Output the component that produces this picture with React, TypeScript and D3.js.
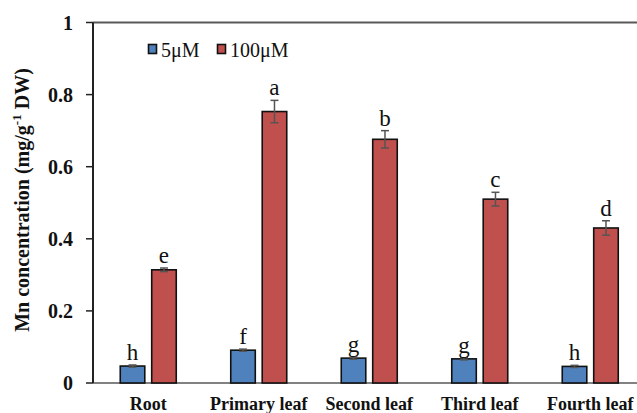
import React from 'react';
import * as d3 from 'd3';

const categories = ['Root', 'Primary leaf', 'Second leaf', 'Third leaf', 'Fourth leaf'];
const series = ['5μM', '100μM'];
const low = [0.047, 0.091, 0.069, 0.067, 0.046];
const high = [0.314, 0.753, 0.676, 0.51, 0.43];
const lowErr = [0.003, 0.003, 0.003, 0.003, 0.003];
const highErr = [0.005, 0.031, 0.024, 0.019, 0.02];
const lowLetters = ['h', 'f', 'g', 'g', 'h'];
const highLetters = ['e', 'a', 'b', 'c', 'd'];
const yTicks = [0, 0.2, 0.4, 0.6, 0.8, 1];

const colors = ['#4F81BD', '#C0504D'];
const serif = 'Liberation Serif';

export default function App() {
  const width = 637;
  const height = 413;
  const left = 93;

  const y = d3.scaleLinear().domain([0, 1]).range([383, 22.5]);
  const x = d3.scaleBand().domain(categories).range([left, left + 5 * 110.5]);
  const groupW = 56;

  const bars = categories.flatMap((c, i) => {
    const cx = (x(c) as number) + x.bandwidth() / 2;
    const x1 = d3.scaleBand().domain(series).range([cx - groupW / 2, cx + groupW / 2]).paddingInner(0.22);
    return [
      { s: series[0], v: low[i], e: lowErr[i], l: lowLetters[i], x: x1(series[0]) as number, w: x1.bandwidth(), col: colors[0] },
      { s: series[1], v: high[i], e: highErr[i], l: highLetters[i], x: x1(series[1]) as number, w: x1.bandwidth(), col: colors[1] },
    ];
  });

  const fmt = (t: number) => (t === 0 ? '0' : t === 1 ? '1' : t.toFixed(1));

  return (
    <svg width={width} height={height} style={{ position: 'absolute', left: 0, top: 0, background: '#fff', fontFamily: serif }}>
      {/* frame lines */}
      <line x1={left} x2={width} y1={y(1)} y2={y(1)} stroke="#595959" strokeWidth={2} />
      <line x1={left} x2={width} y1={y(0)} y2={y(0)} stroke="#595959" strokeWidth={1.5} />
      <line x1={left} x2={left} y1={y(1)} y2={y(0)} stroke="#222" strokeWidth={2} />

      {yTicks.map((t) => (
        <g key={t}>
          <line x1={left - 7} x2={left} y1={y(t)} y2={y(t)} stroke="#222" strokeWidth={1.5} />
          <text x={73} y={y(t)} dy="0.36em" textAnchor="end" fill="#111"
            style={{ fontFamily: serif, fontWeight: 'bold', fontSize: 20 }}>
            {fmt(t)}
          </text>
        </g>
      ))}

      {bars.map((b, i) => (
        <g key={i}>
          <rect x={b.x} y={y(b.v)} width={b.w} height={y(0) - y(b.v)} fill={b.col} stroke="#111" strokeWidth={1.6} />
          <line x1={b.x + b.w / 2} x2={b.x + b.w / 2} y1={y(b.v + b.e)} y2={y(b.v - b.e)} stroke="#555" strokeWidth={1.5} />
          <line x1={b.x + b.w / 2 - 4} x2={b.x + b.w / 2 + 4} y1={y(b.v + b.e)} y2={y(b.v + b.e)} stroke="#555" strokeWidth={1.5} />
          <line x1={b.x + b.w / 2 - 4} x2={b.x + b.w / 2 + 4} y1={y(b.v - b.e)} y2={y(b.v - b.e)} stroke="#555" strokeWidth={1.5} />
          <text x={b.x + b.w / 2} y={y(b.v + b.e) - 5} textAnchor="middle" fill="#111"
            style={{ fontFamily: serif, fontSize: 23 }}>
            {b.l}
          </text>
        </g>
      ))}

      {categories.map((c) => (
        <text key={c} x={(x(c) as number) + x.bandwidth() / 2} y={410} textAnchor="middle" fill="#111"
          style={{ fontFamily: serif, fontWeight: 'bold', fontSize: 18 }}>
          {c}
        </text>
      ))}

      <text transform="translate(29,200) rotate(-90)" textAnchor="middle" fill="#111"
        style={{ fontFamily: serif, fontWeight: 'bold', fontSize: 20 }}>
        Mn concentration (mg/g<tspan dy={-8} style={{ fontSize: 13 }}>-1</tspan>
        <tspan dy={8}> DW)</tspan>
      </text>

      {series.map((s, i) => (
        <g key={s} transform={`translate(${[148, 217][i]},44)`}>
          <rect x={0.5} y={0.5} width={8} height={9} fill={colors[i]} stroke="#111" strokeWidth={1.6} />
          <text x={13} y={12.5} fill="#111" style={{ fontFamily: serif, fontSize: 20 }}>
            {s}
          </text>
        </g>
      ))}
    </svg>
  );
}
